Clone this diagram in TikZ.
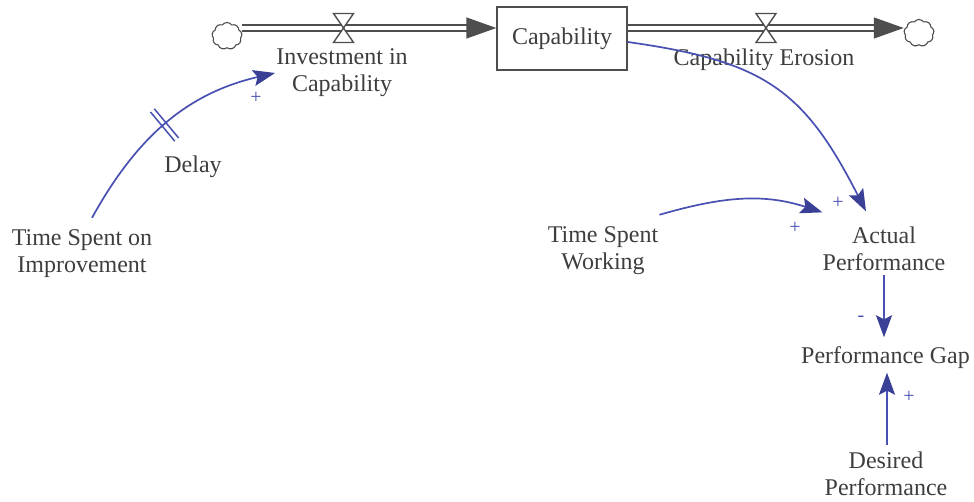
\documentclass[tikz,border=0pt]{standalone}
\usepackage{fontspec}
\setmainfont{Liberation Serif}
\usetikzlibrary{arrows.meta,shapes.symbols,decorations.markings,calc}
\definecolor{txt}{RGB}{62,62,62}
\definecolor{lnk}{RGB}{72,80,178}
\definecolor{lnkhead}{RGB}{58,64,150}
\definecolor{pipe}{RGB}{78,78,78}
\begin{document}
\begin{tikzpicture}[x=1pt,y=1pt,
  font=\fontsize{24}{27}\selectfont,
  lbl/.style={align=center, inner sep=4pt, text=txt},
  link/.style={draw=lnk, line width=1.7pt, -{Stealth[length=22pt,width=16pt,inset=4pt,color=lnkhead]}},
  pol/.style={text=lnk, inner sep=0pt, font=\fontsize{20}{20}\selectfont},
  flowpipe/.style={draw=pipe, double=white, double distance=4.5pt, line width=1.4pt, -{Triangle[length=30pt,width=21pt,color=pipe]}},
  valve/.style={draw=pipe, fill=white, line width=1.4pt, line join=miter},
  cloudy/.style={cloud, cloud puffs=9, cloud puff arc=110, draw=pipe, line width=1.1pt, minimum width=30pt, minimum height=27pt, inner sep=0pt},
  stockbox/.style={draw=pipe, line width=1.4pt, minimum width=130pt, minimum height=63pt, text=txt, inner sep=0pt},
  delaymarks/.style={postaction={decorate}, decoration={markings, mark=at position #1 with {\draw[-,draw=lnk,line width=1.5pt] (-2.5,-19)--(-2.5,19) (2.5,-19)--(2.5,19);}}}
]
\useasboundingbox (0,0) rectangle (974,-502);

% stock and flows
\node[cloudy] (cloudL) at (227,-36) {};
\node[cloudy] (cloudR) at (919,-33) {};
\node[stockbox] (box) at (562,-38.5) {Capability};
\coordinate (v1) at (343.5,-28);
\coordinate (v2) at (766,-28);
\draw[flowpipe] (cloudL.east |- v1) -- (box.west |- v1);
\draw[flowpipe] (box.east |- v2) -- (cloudR.west |- v2);
\draw[valve, shift={(v1)}] (-10,14.5) -- (10,14.5) -- (-10,-14.5) -- (10,-14.5) -- cycle;
\draw[valve, shift={(v2)}] (-10,14.5) -- (10,14.5) -- (-10,-14.5) -- (10,-14.5) -- cycle;

% variables
\node[lbl] (inv) at (342,-73) {Investment in\\Capability};
\node[lbl] (cape) at (764,-60) {Capability Erosion};
\node[lbl] (tsi) at (82,-254) {Time Spent on\\Improvement};
\node[lbl] (delay) at (193,-167) {Delay};
\node[lbl] (tsw) at (603,-251) {Time Spent\\Working};
\node[lbl] (ap) at (884,-248.5) {Actual\\Performance};
\node[lbl] (gap) at (885.5,-357.5) {Performance Gap};
\node[lbl] (dp) at (886,-474) {Desired\\Performance};

% links
\draw[link, delaymarks=0.49] ([xshift=10pt,yshift=8pt]tsi.north) to[out=61,in=193] ([xshift=3pt]inv.west);
\draw[link] ([yshift=-3.5pt]box.east) to[out=-8,in=117,looseness=1.2] ([xshift=-18pt,yshift=11pt]ap.north);
\draw[link] ([xshift=-3pt,yshift=8pt]tsw.north east) to[out=16,in=162] ([xshift=4pt,yshift=10pt]ap.north west);
\draw[link] (ap.south) -- ($(ap.south |- gap.north)+(0,5)$);
\draw[link] ([xshift=1pt,yshift=3pt]dp.north) -- ([xshift=1pt]dp.north |- gap.south);

% polarities
\node[pol] (p1) at (256,-98) {+};
\node[pol] (p2) at (838,-203) {+};
\node[pol] (p3) at (795,-228) {+};
\node[pol] (p4) at (861,-319) {-};
\node[pol] (p5) at (909,-397) {+};
\end{tikzpicture}
\end{document}
